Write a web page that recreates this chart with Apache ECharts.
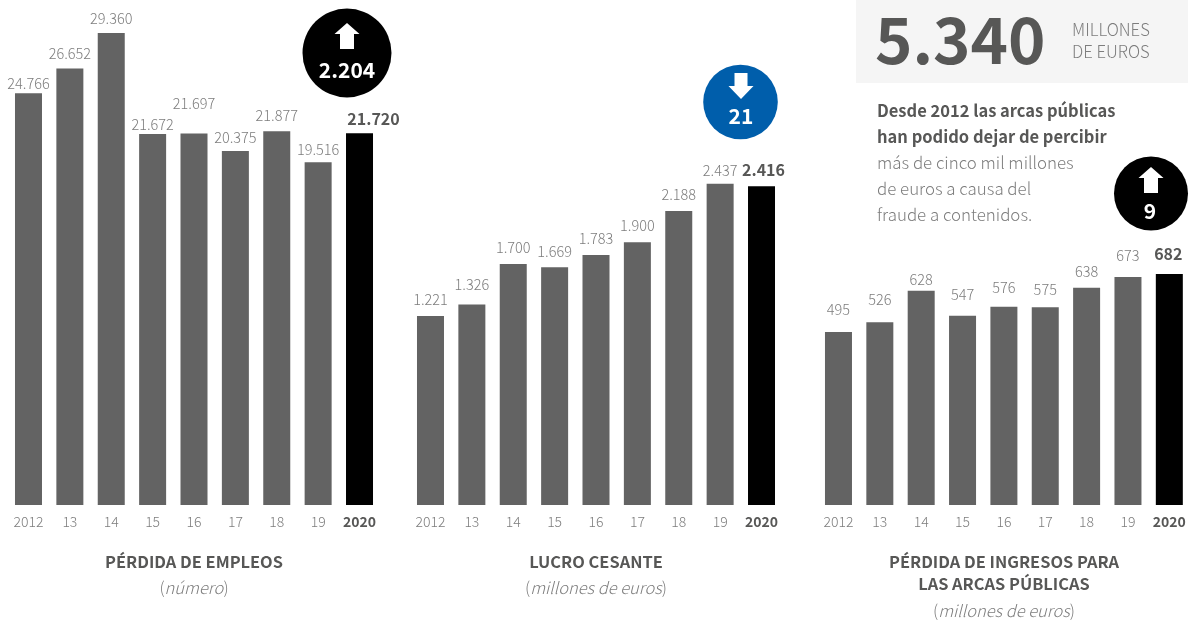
<!DOCTYPE html>
<html>
<head>
<meta charset="utf-8">
<style>html,body{margin:0;padding:0;background:#fff}#c{width:1190px;height:621px}</style>
<script src="https://cdn.jsdelivr.net/npm/echarts@6/dist/echarts.min.js"></script>
</head>
<body>
<div id="c"></div>
<script>
const years = ['2012', '13', '14', '15', '16', '17', '18', '19', '2020'];

const empleos = [24766, 26652, 29360, 21672, 21697, 20375, 21877, 19516, 21720];
const lucro = [1221, 1326, 1700, 1669, 1783, 1900, 2188, 2437, 2416];
const ingresos = [495, 526, 628, 547, 576, 575, 638, 673, 682];

const badgeEmpleos = '2.204';
const badgeLucro = '21';
const badgeIngresos = '9';

// Distance in pixels from each bar's top to the middle of its value label.
const liftEmpleos = [10, 15, 15, 9, 30, 13, 16, 13, 14];
const liftLucro = [16, 20, 16, 16, 16, 17, 16, 13, 16];
const liftIngresos = [22, 23, 11, 21, 19, 18, 16, 21, 20];

const LIGHT = '"Noto Sans CJK JP","Noto Sans",sans-serif';
const GREY_TEXT = '#7d7d7d';
const DARK_TEXT = '#575756';
const BAR = '#636363';
const BAR_WIDTH = 27;
const PLOT_TOP = 33, PLOT_BOTTOM = 505;

const thousands = v => String(v).replace(/\B(?=(\d{3})+$)/g, '.');

// lastShift nudges the bold 2020 label sideways, clear of its neighbour.
const panels = [
  { left: 7.8, values: empleos, lifts: liftEmpleos, min: -6600, max: 29360, lastShift: 14 },
  { left: 409.8, values: lucro, lifts: liftLucro, min: -520, max: 3826, lastShift: 2 },
  { left: 817.8, values: ingresos, lifts: liftIngresos, min: -65, max: 1462, lastShift: -1 }
];

const grid = panels.map(p => ({
  left: p.left, width: 372.4, top: PLOT_TOP, height: PLOT_BOTTOM - PLOT_TOP
}));

const xAxis = panels.map((p, i) => ({
  type: 'category', gridIndex: i, data: years,
  axisLine: { show: false }, axisTick: { show: false },
  axisLabel: {
    interval: 0, margin: 10,
    formatter: (v, idx) => idx === years.length - 1 ? '{b|' + v + '}' : '{n|' + v + '}',
    rich: {
      n: { fontFamily: LIGHT, fontWeight: 300, fontSize: 14, color: GREY_TEXT },
      b: { fontFamily: LIGHT, fontWeight: 700, fontSize: 14, color: DARK_TEXT }
    }
  }
}));

const yAxis = panels.map((p, i) => ({
  type: 'value', gridIndex: i, min: p.min, max: p.max, show: false, splitLine: { show: false }
}));

const series = panels.map((p, i) => ({
  type: 'custom',
  xAxisIndex: i, yAxisIndex: i,
  clip: false, silent: true,
  encode: { x: 0, y: 1 },
  data: p.values.map((v, k) => [k, v]),
  renderItem: (params, api) => {
    const k = api.value(0), v = api.value(1);
    const top = api.coord([k, v]);
    const base = api.coord([k, p.min]);
    const last = k === years.length - 1;
    return {
      type: 'group',
      children: [
        {
          type: 'rect',
          shape: { x: top[0] - BAR_WIDTH / 2, y: top[1], width: BAR_WIDTH, height: base[1] - top[1] },
          style: { fill: last ? '#000000' : BAR }
        },
        {
          type: 'text',
          style: {
            x: top[0] + (last ? p.lastShift : 0), y: top[1] - p.lifts[k],
            text: thousands(v),
            align: 'center', verticalAlign: 'middle',
            font: (last ? '700 16px ' : '300 14.5px ') + LIGHT,
            fill: last ? DARK_TEXT : GREY_TEXT
          }
        }
      ]
    };
  }
}));

const label = (x, y, text, font, fill, align) => ({
  type: 'text', z: 10,
  style: { x, y, text, font: font + ' ' + LIGHT, fill, align: align || 'left', verticalAlign: 'middle' }
});
// Unit line under a panel title: upright brackets around italic words.
const unit = (x, y, words) => ({
  type: 'text', z: 10,
  style: {
    x, y, text: '{p|(}{i|' + words + '}{p|)}', align: 'center', verticalAlign: 'middle',
    rich: {
      p: { fontFamily: LIGHT, fontWeight: 300, fontSize: 16.5, fill: GREY_TEXT },
      i: { fontFamily: LIGHT, fontWeight: 300, fontStyle: 'italic', fontSize: 16.5, fill: GREY_TEXT }
    }
  }
});
const disc = (cx, cy, r, fill) => ({ type: 'circle', z: 5, shape: { cx, cy, r }, style: { fill } });
const arrowUp = (cx, top) => ({
  type: 'polygon', z: 6,
  shape: { points: [[cx, top], [cx + 12.5, top + 11], [cx + 7, top + 11], [cx + 7, top + 26], [cx - 7, top + 26], [cx - 7, top + 11], [cx - 12.5, top + 11]] },
  style: { fill: '#fff' }
});
const arrowDown = (cx, top) => ({
  type: 'polygon', z: 6,
  shape: { points: [[cx - 6.5, top], [cx + 6.5, top], [cx + 6.5, top + 13], [cx + 12.5, top + 13], [cx, top + 26], [cx - 12.5, top + 13], [cx - 6.5, top + 13]] },
  style: { fill: '#fff' }
});

const graphic = [
  { type: 'rect', z: 1, shape: { x: 856, y: 0, width: 332, height: 83 }, style: { fill: '#f5f5f5' } },
  label(875, 40, '5.340', '700 63.5px', DARK_TEXT),
  label(1072, 30, 'MILLONES', '300 16.7px', GREY_TEXT),
  label(1072, 52, 'DE EUROS', '300 16.7px', GREY_TEXT),

  label(877, 111, 'Desde 2012 las arcas públicas', '700 16.5px', DARK_TEXT),
  label(877, 137, 'han podido dejar de percibir', '700 16.5px', DARK_TEXT),
  label(877, 163, 'más de cinco mil millones', '300 16.9px', GREY_TEXT),
  label(877, 189, 'de euros a causa del', '300 16.9px', GREY_TEXT),
  label(877, 215, 'fraude a contenidos.', '300 16.9px', GREY_TEXT),

  disc(347, 53, 44.5, '#000'),
  arrowUp(347, 23),
  label(347, 70, badgeEmpleos, '700 21px', '#fff', 'center'),

  disc(740.5, 102, 37.3, '#005eab'),
  arrowDown(741, 73),
  label(741, 116, badgeLucro, '700 21px', '#fff', 'center'),

  disc(1151, 193.5, 37, '#000'),
  arrowUp(1151, 167),
  label(1150, 211, badgeIngresos, '700 21px', '#fff', 'center'),

  label(194, 562, 'PÉRDIDA DE EMPLEOS', '700 16.4px', DARK_TEXT, 'center'),
  unit(194, 588, 'número'),
  label(596, 562, 'LUCRO CESANTE', '700 16.4px', DARK_TEXT, 'center'),
  unit(596, 588, 'millones de euros'),
  label(1004, 562, 'PÉRDIDA DE INGRESOS PARA', '700 16.4px', DARK_TEXT, 'center'),
  label(1004, 584, 'LAS ARCAS PÚBLICAS', '700 16.4px', DARK_TEXT, 'center'),
  unit(1004, 611, 'millones de euros')
];

const chart = echarts.init(document.getElementById('c'));
chart.setOption({ animation: false, backgroundColor: '#fff', grid, xAxis, yAxis, series, graphic });
</script>
</body>
</html>
